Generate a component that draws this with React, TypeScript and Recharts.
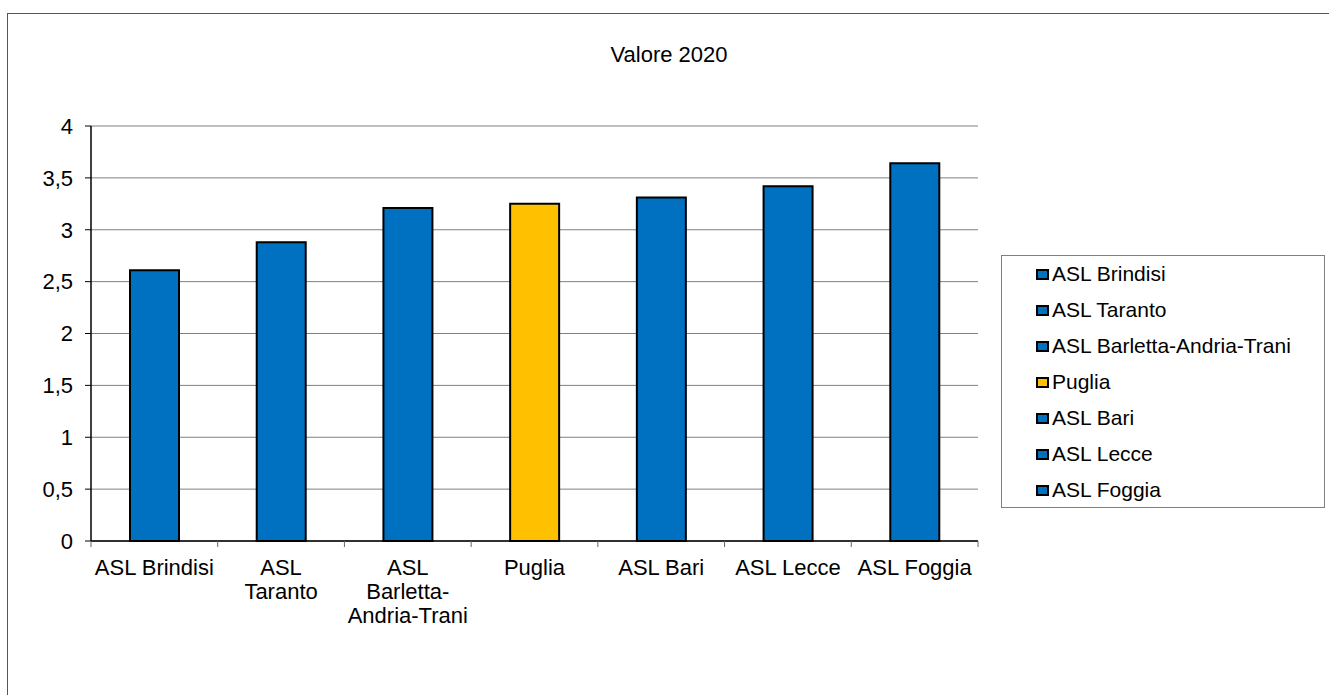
import React from 'react';
import { BarChart, Bar, XAxis, YAxis, CartesianGrid, Cell } from 'recharts';

const categories = [
  'ASL Brindisi',
  'ASL Taranto',
  'ASL Barletta-Andria-Trani',
  'Puglia',
  'ASL Bari',
  'ASL Lecce',
  'ASL Foggia'
];
const values2020 = [2.61, 2.88, 3.21, 3.25, 3.31, 3.42, 3.64];
const barColors = ['#0070C0', '#0070C0', '#0070C0', '#FFC000', '#0070C0', '#0070C0', '#0070C0'];
const xTickLines = [
  ['ASL Brindisi'],
  ['ASL', 'Taranto'],
  ['ASL', 'Barletta-', 'Andria-Trani'],
  ['Puglia'],
  ['ASL Bari'],
  ['ASL Lecce'],
  ['ASL Foggia']
];
const yTicks = [0, 0.5, 1, 1.5, 2, 2.5, 3, 3.5, 4];
const title = 'Valore 2020';

const data = categories.map((name, i) => ({ name, value: values2020[i], color: barColors[i] }));

const W = 1329;
const H = 695;
const PLOT_LEFT = 91;
const PLOT_RIGHT = 978;
const PLOT_TOP = 126;
const PLOT_BOTTOM = 541;
const BAND = (PLOT_RIGHT - PLOT_LEFT) / categories.length;
const FONT = '"Liberation Sans", Arial, sans-serif';

const XTick = (props: any) => {
  const { x, index } = props;
  const lines = xTickLines[index] || [];
  const left = x - BAND / 2;
  return (
    <g>
      <line x1={left} x2={left} y1={PLOT_BOTTOM} y2={PLOT_BOTTOM + 6} stroke="#666" />
      {index === categories.length - 1 && (
        <line x1={x + BAND / 2} x2={x + BAND / 2} y1={PLOT_BOTTOM} y2={PLOT_BOTTOM + 6} stroke="#666" />
      )}
      <text textAnchor="middle" fontSize={22} fontFamily={FONT} fill="#000">
        {lines.map((l, i) => (
          <tspan key={i} x={x} y={PLOT_BOTTOM + 34 + i * 24}>
            {l}
          </tspan>
        ))}
      </text>
    </g>
  );
};

const App: React.FC = () => {
  return (
    <div style={{ position: 'absolute', left: 0, top: 0, width: W, height: H, background: '#fff', fontFamily: FONT }}>
      <div
        style={{
          position: 'absolute',
          left: 7,
          top: 13,
          width: W,
          height: H,
          borderTop: '1px solid #555',
          borderLeft: '1px solid #555'
        }}
      />
      <div
        style={{
          position: 'absolute',
          left: 0,
          width: 1338,
          top: 44,
          textAlign: 'center',
          fontSize: 22,
          lineHeight: '22px',
          color: '#000'
        }}
      >
        {title}
      </div>
      <div style={{ position: 'absolute', left: 0, top: 0 }}>
        <BarChart
          width={W}
          height={H}
          data={data}
          margin={{ top: PLOT_TOP, right: W - PLOT_RIGHT, bottom: H - PLOT_BOTTOM - 30, left: 0 }}
        >
          <CartesianGrid vertical={false} stroke="#808080" strokeWidth={1} />
          <XAxis
            dataKey="name"
            height={30}
            interval={0}
            tick={<XTick />}
            tickLine={false}
            axisLine={{ stroke: '#000', strokeWidth: 1.5 }}
          />
          <YAxis
            width={PLOT_LEFT}
            domain={[0, 4]}
            ticks={yTicks}
            interval={0}
            tickFormatter={(v: number) => String(v).replace('.', ',')}
            tick={{ fill: '#000', fontSize: 22, fontFamily: FONT }}
            tickSize={6}
            tickMargin={12}
            tickLine={{ stroke: '#000' }}
            axisLine={{ stroke: '#000', strokeWidth: 1.5 }}
          />
          <YAxis
            yAxisId="r"
            orientation="right"
            width={0}
            domain={[0, 4]}
            tick={false}
            tickLine={false}
            axisLine={{ stroke: '#808080', strokeWidth: 2 }}
          />
          <Bar dataKey="value" barSize={49} stroke="#000" strokeWidth={2} isAnimationActive={false}>
            {data.map((d, i) => (
              <Cell key={i} fill={d.color} />
            ))}
          </Bar>
        </BarChart>
      </div>
      <div
        style={{
          position: 'absolute',
          left: 1001,
          top: 255,
          width: 324,
          height: 253,
          boxSizing: 'border-box',
          border: '1px solid #808080',
          background: '#fff'
        }}
      >
        {categories.map((c, i) => (
          <div key={c} style={{ height: 36, display: 'flex', alignItems: 'center', marginLeft: 34 }}>
            <span
              style={{
                display: 'inline-block',
                width: 13,
                height: 11,
                boxSizing: 'border-box',
                border: '2px solid #000',
                background: barColors[i],
                marginRight: 3
              }}
            />
            <span style={{ fontSize: 21, color: '#000', whiteSpace: 'nowrap' }}>{c}</span>
          </div>
        ))}
      </div>
    </div>
  );
};

export default App;
